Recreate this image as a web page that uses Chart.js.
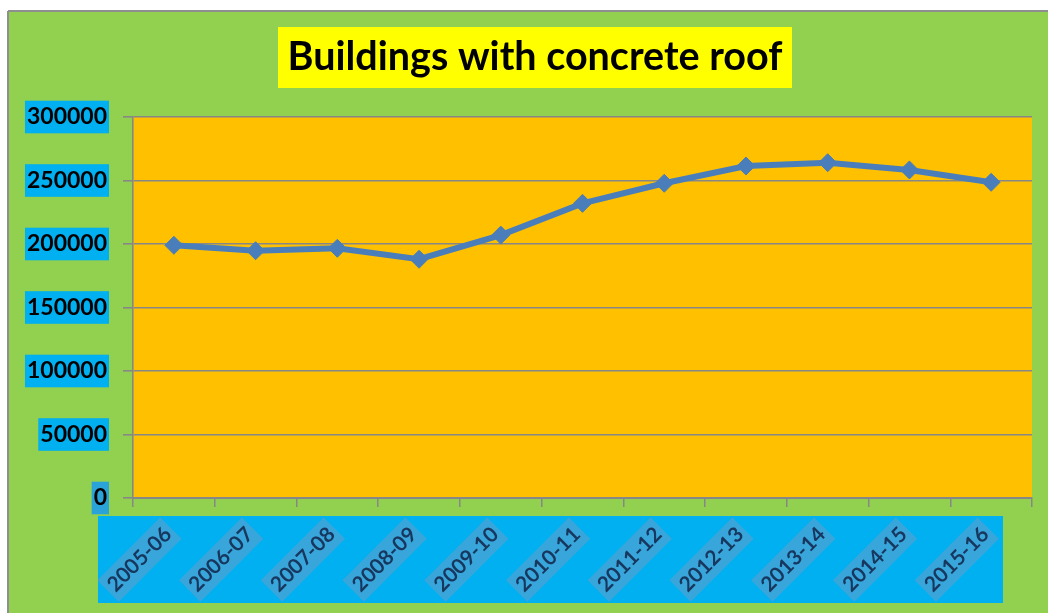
<!DOCTYPE html>
<html>
<head>
<meta charset="utf-8">
<script src="https://cdn.jsdelivr.net/npm/chart.js@4/dist/chart.umd.min.js"></script>
<style>
html,body{margin:0;padding:0;background:#fff;overflow:hidden}
#wrap{width:1048px;height:613px;position:relative}
canvas{display:block}
</style>
</head>
<body>
<div id="wrap"><canvas id="c" width="1048" height="613"></canvas></div>
<script>
const titleText = 'Buildings with concrete roof';
const categories = ['2005-06','2006-07','2007-08','2008-09','2009-10','2010-11','2011-12','2012-13','2013-14','2014-15','2015-16'];
const buildings = [199000, 194700, 196600, 188000, 207000, 232000, 247800, 261400, 264000, 258300, 248600];
const yTickValues = [0, 50000, 100000, 150000, 200000, 250000, 300000];

const FONT = 'Lato';

const decor = {
  id: 'decor',
  afterLayout(chart) {
    // let the y tick labels (with their boxes) extend left of the axis box
    chart.scales.y.left = 0;
  },
  beforeDraw(chart) {
    const ctx = chart.ctx;
    const W = chart.width, H = chart.height;
    const ca = chart.chartArea;
    ctx.save();
    ctx.fillStyle = '#ffffff';
    ctx.fillRect(0, 0, W, H);
    ctx.fillStyle = '#92D050';
    ctx.fillRect(8, 11, W - 8, H - 11);
    ctx.strokeStyle = '#8f8f8f';
    ctx.lineWidth = 2;
    ctx.beginPath();
    ctx.moveTo(8, 11); ctx.lineTo(W, 11);
    ctx.moveTo(8, 11); ctx.lineTo(8, H);
    ctx.stroke();
    // title highlight box
    const tb = chart.titleBlock;
    const cx = (tb.left + tb.right) / 2;
    ctx.fillStyle = '#FFFF00';
    ctx.fillRect(cx - 257, 27, 514, 61);
    // band behind category labels
    ctx.fillStyle = '#00B0F0';
    ctx.fillRect(ca.left - 35, ca.bottom + 18, (ca.right - 29) - (ca.left - 35), 87);
    // plot area
    ctx.fillStyle = '#FFC000';
    ctx.fillRect(ca.left, ca.top, ca.right - ca.left, ca.bottom - ca.top);
    ctx.restore();
  }
};

new Chart(document.getElementById('c'), {
  type: 'line',
  data: {
    labels: categories,
    datasets: [{
      label: titleText,
      data: buildings,
      borderColor: '#4A7EBB',
      backgroundColor: '#4A7EBB',
      borderWidth: 6,
      tension: 0,
      pointStyle: 'rectRot',
      pointRadius: 9,
      pointBorderWidth: 1,
      pointBackgroundColor: '#4A7EBB',
      pointBorderColor: '#4A7EBB',
      clip: false
    }]
  },
  options: {
    responsive: false,
    animation: false,
    devicePixelRatio: 1,
    layout: { padding: { top: 11, left: 38, right: 16, bottom: 0 } },
    plugins: {
      legend: { display: false },
      tooltip: { enabled: false },
      title: {
        display: true,
        text: titleText,
        color: '#000000',
        font: { family: FONT, weight: 'bold', size: 39.5, lineHeight: 1.2 },
        padding: { top: 22.8, bottom: 35.8 }
      }
    },
    scales: {
      x: {
        offset: true,
        grid: { display: true, drawOnChartArea: false, drawTicks: true, tickLength: 9, color: '#878787', lineWidth: 1.5, offset: true },
        border: { display: true, color: '#878787', width: 2 },
        ticks: {
          autoSkip: false,
          minRotation: 45,
          maxRotation: 45,
          padding: 15,
          labelOffset: -14.7,
          color: '#17375E',
          font: { family: FONT, weight: 'bold', size: 21 },
          showLabelBackdrop: true,
          backdropColor: 'rgba(95,160,205,0.6)',
          backdropPadding: { top: 2.5, bottom: 2.5, left: 4, right: 4 }
        },
        afterFit(scale) { scale.height = 115; }
      },
      y: {
        min: yTickValues[0],
        max: yTickValues[yTickValues.length - 1],
        grid: { color: '#878787', lineWidth: 1.6, drawTicks: true, tickLength: 10 },
        border: { display: true, color: '#878787', width: 1.6 },
        afterBuildTicks(scale) { scale.ticks = yTickValues.map(v => ({ value: v })); },
        ticks: {
          padding: 16,
          color: '#000000',
          font: { family: FONT, weight: 'bold', size: 23 },
          showLabelBackdrop: true,
          backdropColor: (c) => (c.tick && c.tick.value === 0) ? '#2AA3D8' : '#00B0F0',
          backdropPadding: { top: 2.5, bottom: 2.5, left: 2, right: 2 },
          callback: (v) => String(v)
        },
        afterFit(scale) { scale.width = 95; }
      }
    }
  },
  plugins: [decor]
});
</script>
</body>
</html>
